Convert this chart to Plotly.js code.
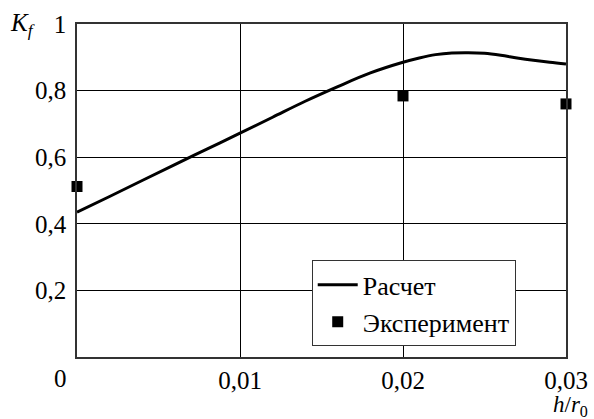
<!DOCTYPE html>
<html>
<head>
<meta charset="utf-8">
<script src="https://cdn.plot.ly/plotly-3.0.1.min.js"></script>
<style>
html,body{margin:0;padding:0;background:#fff;font-family:'Liberation Serif',serif;}
svg text { font-family: 'Liberation Serif', serif !important; }
</style>
</head>
<body>
<div id="chart"></div>
<script>
var calcX = [0, 0.002, 0.004, 0.006, 0.008, 0.01, 0.012, 0.014, 0.016, 0.018, 0.02, 0.021, 0.022, 0.023, 0.024, 0.025, 0.026, 0.027, 0.028, 0.029, 0.03];
var calcY = [0.435, 0.482, 0.53, 0.578, 0.625, 0.672, 0.72, 0.768, 0.812, 0.853, 0.885, 0.898, 0.908, 0.913, 0.914, 0.912, 0.906, 0.898, 0.891, 0.885, 0.88];
var expX = [0, 0.02, 0.03];
var expY = [0.512, 0.784, 0.76];
var xTickVals = [0, 0.01, 0.02, 0.03];
var xTickText = ['0', '0,01', '0,02', '0,03'];
var yTickVals = [0.2, 0.4, 0.6, 0.8, 1];
var yTickText = ['0,2', '0,4', '0,6', '0,8', '1'];

var FAM = 'Liberation Serif';
function mkFont(sz) { return {family: FAM, size: sz, color: '#000'}; }

var data = [
  {x: calcX, y: calcY, mode: 'lines', name: 'Расчет', line: {color: '#000', width: 3, shape: 'spline'}},
  {x: expX, y: expY, mode: 'markers', name: 'Эксперимент', marker: {symbol: 'square', color: '#000', size: 11}, cliponaxis: false}
];

var shownX = xTickText.slice();
shownX[0] = '';

var layout = {
  width: 594, height: 419,
  margin: {l: 77, r: 28, t: 24, b: 62},
  paper_bgcolor: '#fff', plot_bgcolor: '#fff',
  font: mkFont(25),
  showlegend: true,
  legend: {x: 0.48, y: 0.29, xanchor: 'left', yanchor: 'top', bgcolor: '#fff', bordercolor: '#333', borderwidth: 1, font: mkFont(26), tracegroupgap: 0, itemwidth: 40},
  xaxis: {range: [0, 0.03], tickvals: xTickVals, ticktext: shownX, showgrid: true, gridcolor: '#000', gridwidth: 1, showline: true, linecolor: '#333', linewidth: 1.5, mirror: true, ticks: '', zeroline: false, tickfont: mkFont(25)},
  yaxis: {range: [0, 1], tickvals: yTickVals, ticktext: yTickText, showgrid: true, gridcolor: '#000', gridwidth: 1, showline: true, linecolor: '#333', linewidth: 1.5, mirror: true, ticks: '', zeroline: false, tickfont: mkFont(25), ticklabelstandoff: 4},
  annotations: [
    {xref: 'paper', yref: 'paper', x: 0, y: 0, xshift: -17, yshift: -21, text: xTickText[0], showarrow: false, font: mkFont(25), xanchor: 'center', yanchor: 'middle'},
    {xref: 'paper', yref: 'paper', x: 1, y: 0, xshift: 4, yshift: -49, text: '<i>h</i>/<i>r</i><sub>0</sub>', showarrow: false, font: mkFont(23), xanchor: 'center', yanchor: 'middle'},
    {xref: 'paper', yref: 'paper', x: 0, y: 1, xshift: -55, yshift: 0, text: '<i>K</i><sub><i>f</i></sub>', showarrow: false, font: mkFont(25), xanchor: 'center', yanchor: 'middle'}
  ]
};

Plotly.newPlot('chart', data, layout, {displayModeBar: false});
</script>
</body>
</html>
